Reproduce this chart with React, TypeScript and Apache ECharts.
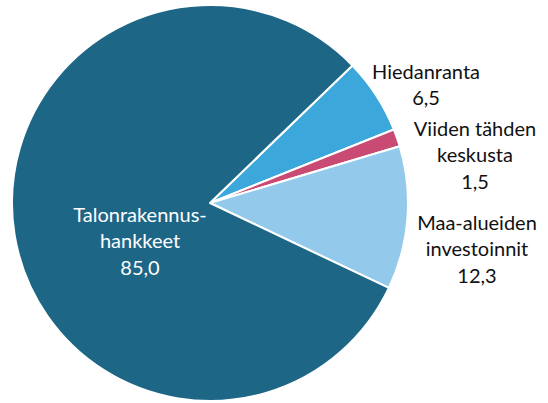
import React, { useEffect, useRef } from "react";
import * as echarts from "echarts";

const categories = ["Hiedanranta", "Viiden tähden\nkeskusta", "Maa-alueiden\ninvestoinnit", "Talonrakennus-\nhankkeet"];
const values = [6.5, 1.5, 12.3, 85.0];
const colors = ["#3BA7DA", "#C94A72", "#93C9EB", "#1D6686"];
const labelCenters = [
  [426, 84],
  [475, 154],
  [477, 248],
  [140, 240],
];

export default function App() {
  const ref = useRef<HTMLDivElement>(null);
  useEffect(() => {
    if (!ref.current) return;
    const chart = echarts.init(ref.current, undefined, { renderer: "svg" });
    const fmt = (v: number) => v.toFixed(1).replace(".", ",");
    chart.setOption({
      animation: false,
      backgroundColor: "#ffffff",
      series: [
        {
          type: "pie",
          center: [210, 203],
          radius: [0, 198],
          startAngle: 44,
          clockwise: true,
          avoidLabelOverlap: false,
          itemStyle: { borderColor: "#ffffff", borderWidth: 2 },
          label: {
            show: true,
            position: "outside",
            fontFamily: "Lato",
            fontSize: 20,
            lineHeight: 26.5,
            color: "#111111",
            align: "center",
            formatter: (p: any) => `${p.name}\n${fmt(p.value)}`,
          },
          labelLine: { show: false },
          labelLayout: (p: any) => {
            const c = labelCenters[p.dataIndex];
            return { x: c[0], y: c[1], align: "center", verticalAlign: "middle" };
          },
          data: categories.map((name, i) => ({
            name,
            value: values[i],
            itemStyle: { color: colors[i] },
            label: i === 3 ? { color: "#ffffff" } : undefined,
          })),
        },
      ],
    });
    return () => chart.dispose();
  }, []);
  return (
    <div
      ref={ref}
      style={{ position: "fixed", left: 0, top: 0, width: 548, height: 403 }}
    />
  );
}
